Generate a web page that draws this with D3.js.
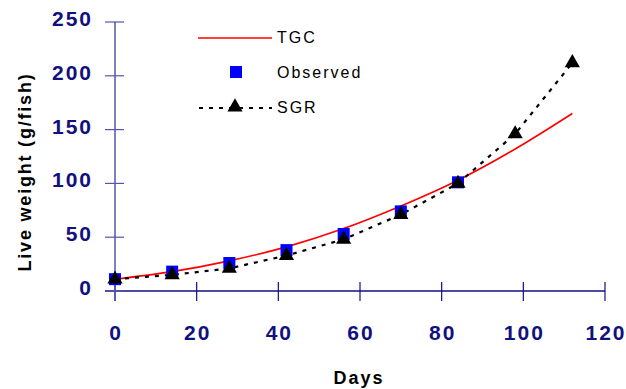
<!DOCTYPE html>
<html>
<head>
<meta charset="utf-8">
<script src="https://cdn.jsdelivr.net/npm/d3@7"></script>
<style>
  body { margin: 0; background: #fff; }
  svg { display: block; font-family: "Liberation Sans", Arial, sans-serif; }
</style>
</head>
<body>
<svg id="chart" width="626" height="389"></svg>
<script>
// data
const days = [0, 14, 28, 42, 56, 70, 84];
const observed = [11, 18, 26, 38, 53, 74, 101];

const sgrDays = [0, 14, 28, 42, 56, 70, 84, 98, 112];
const sgr = [11, 15, 21, 33, 48, 71, 100, 146, 212];

const tgcDays = [0, 14, 28, 42, 56, 70, 84, 98, 112];
const tgc = [11, 18, 28, 41, 58, 79, 103, 132, 165];

const xTicks = [0, 20, 40, 60, 80, 100, 120];
const yTicks = [0, 50, 100, 150, 200, 250];

const navy = '#10107f';

const svg = d3.select('#chart');

const x = d3.scaleLinear().domain([0, 120]).range([115, 605]);
const y = d3.scaleLinear().domain([0, 250]).range([291, 22]);

// x axis
const xAxis = svg.append('g').attr('transform', 'translate(0,291)');
xAxis.append('line')
  .attr('x1', 105).attr('x2', x(120))
  .attr('stroke', navy).attr('stroke-width', 1.5);
xAxis.selectAll('line.tick')
  .data(xTicks)
  .enter()
  .append('line')
  .attr('class', 'tick')
  .attr('x1', d => x(d)).attr('x2', d => x(d))
  .attr('y1', -9).attr('y2', 10)
  .attr('stroke', navy).attr('stroke-width', 1.2);
xAxis.selectAll('text')
  .data(xTicks)
  .enter()
  .append('text')
  .text(d => d)
  .attr('x', d => x(d) + 1)
  .attr('y', 49)
  .attr('text-anchor', 'middle')
  .attr('fill', navy)
  .style('font-size', '21px')
  .style('font-weight', 'bold')
  .style('letter-spacing', '2px');

// y axis
const yAxis = svg.append('g').attr('transform', 'translate(115,0)');
yAxis.append('line')
  .attr('y1', y(250)).attr('y2', 301)
  .attr('stroke', '#5656a8').attr('stroke-width', 1.5);
yAxis.selectAll('line.tick')
  .data(yTicks)
  .enter()
  .append('line')
  .attr('class', 'tick')
  .attr('x1', -10).attr('x2', 9)
  .attr('y1', d => y(d)).attr('y2', d => y(d))
  .attr('stroke', '#5656a8').attr('stroke-width', 1.2);
yAxis.selectAll('text')
  .data(yTicks)
  .enter()
  .append('text')
  .text(d => d)
  .attr('x', -22)
  .attr('y', d => y(d) + 4)
  .attr('text-anchor', 'end')
  .attr('fill', navy)
  .style('font-size', '21px')
  .style('font-weight', 'bold')
  .style('letter-spacing', '2px');

// axis titles
svg.append('text')
  .text('Days')
  .attr('x', 359).attr('y', 384)
  .attr('text-anchor', 'middle')
  .style('font-size', '18px')
  .style('font-weight', 'bold')
  .style('letter-spacing', '2px');

svg.append('text')
  .text('Live weight (g/fish)')
  .attr('transform', 'translate(31,172) rotate(-90)')
  .attr('text-anchor', 'middle')
  .style('font-size', '18px')
  .style('font-weight', 'bold')
  .style('letter-spacing', '1.8px');

// TGC curve
const tgcLine = d3.line()
  .x((d, i) => x(tgcDays[i]))
  .y(d => y(d))
  .curve(d3.curveMonotoneX);
svg.append('path')
  .datum(tgc)
  .attr('d', tgcLine)
  .attr('fill', 'none')
  .attr('stroke', '#ff0000')
  .attr('stroke-width', 1.6);

// SGR dotted line
const sgrLine = d3.line()
  .x((d, i) => x(sgrDays[i]))
  .y(d => y(d));
svg.append('path')
  .datum(sgr)
  .attr('d', sgrLine)
  .attr('fill', 'none')
  .attr('stroke', '#000')
  .attr('stroke-width', 2.2)
  .attr('stroke-dasharray', '4,6');

// observed squares
svg.selectAll('rect.obs')
  .data(observed)
  .enter()
  .append('rect')
  .attr('class', 'obs')
  .attr('x', (d, i) => x(days[i]) - 6)
  .attr('y', d => y(d) - 6)
  .attr('width', 12).attr('height', 12)
  .attr('fill', '#0000ff');

// SGR triangles
const tri = d3.symbol().type(d3.symbolTriangle).size(100);
svg.selectAll('path.sgr')
  .data(sgr)
  .enter()
  .append('path')
  .attr('class', 'sgr')
  .attr('d', tri)
  .attr('transform', (d, i) => `translate(${x(sgrDays[i])},${y(d)})`)
  .attr('fill', '#000');

// legend
const legend = svg.append('g');
legend.append('line')
  .attr('x1', 198).attr('x2', 272).attr('y1', 38).attr('y2', 38)
  .attr('stroke', '#ff0000').attr('stroke-width', 1.6);
legend.append('rect')
  .attr('x', 230).attr('y', 66).attr('width', 12).attr('height', 12)
  .attr('fill', '#0000ff');
legend.append('line')
  .attr('x1', 199).attr('x2', 272).attr('y1', 108).attr('y2', 108)
  .attr('stroke', '#000').attr('stroke-width', 2.2)
  .attr('stroke-dasharray', '4,6');
legend.append('path')
  .attr('d', tri)
  .attr('transform', 'translate(235,107)')
  .attr('fill', '#000');

const legendText = ['TGC', 'Observed', 'SGR'];
legend.selectAll('text')
  .data(legendText)
  .enter()
  .append('text')
  .text(d => d)
  .attr('x', 277)
  .attr('y', (d, i) => 43 + i * 35)
  .style('font-size', '16px')
  .style('letter-spacing', '2px');
</script>
</body>
</html>
